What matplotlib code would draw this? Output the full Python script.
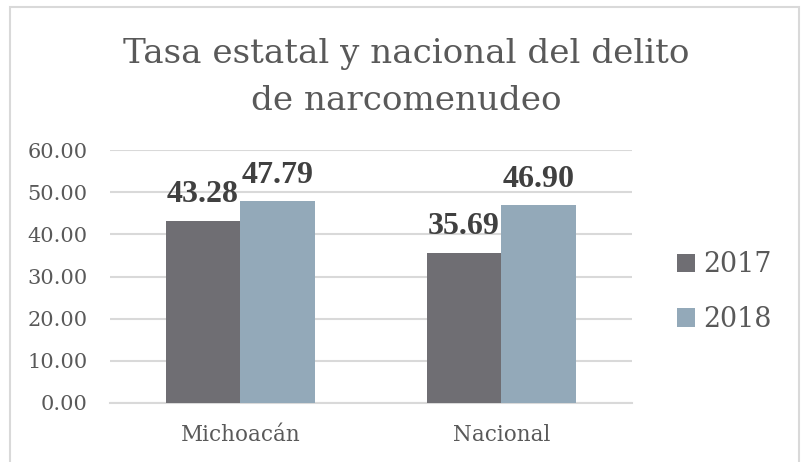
import matplotlib
matplotlib.use("Agg")
import matplotlib.pyplot as plt
from matplotlib.patches import Rectangle
import numpy as np

categories = ["Michoacán", "Nacional"]
years = ["2017", "2018"]
values_2017 = [43.28, 35.69]
values_2018 = [47.79, 46.90]
y_ticks = [0, 10, 20, 30, 40, 50, 60]

colors = ["#6f6e73", "#93a9b9"]
text_gray = "#595959"
grid_gray = "#d9d9d9"
serif = ["DejaVu Serif"]
label_font = ["Liberation Serif", "DejaVu Serif"]

W, H = 804, 462
fig = plt.figure(figsize=(W / 100, H / 100), dpi=100)
fig.patch.set_facecolor("white")

# chart frame
fig.add_artist(Rectangle((10 / W, -0.05), 789 / W, 1.05 - 7 / H,
                         transform=fig.transFigure, fill=False,
                         edgecolor=grid_gray, linewidth=1.5, clip_on=False))

ax = fig.add_axes([110 / W, 1 - 403 / H, 522 / W, 253 / H])
x = np.arange(len(categories))
width = 0.287

series = [values_2017, values_2018]
for i, (vals, yr) in enumerate(zip(series, years)):
    pos = x + (i - 0.5) * width
    bars = ax.bar(pos, vals, width, color=colors[i], label=yr, zorder=3)
    for b, v in zip(bars, vals):
        ax.annotate(f"{v:.2f}", (b.get_x() + b.get_width() / 2, v),
                    xytext=(0, 13), textcoords="offset points",
                    ha="center", va="baseline", fontsize=23, fontweight="bold",
                    color="#404040", family=label_font)

ax.set_xlim(-0.5, 1.5)
ax.set_ylim(0, 60)
ax.set_yticks(y_ticks)
ax.set_yticklabels([f"{t:.2f}" for t in y_ticks], family=serif, fontsize=15,
                   color=text_gray)
ax.set_xticks(x)
ax.set_xticklabels(categories, family=serif, fontsize=15.5, color=text_gray)
ax.tick_params(axis="both", length=0)
ax.tick_params(axis="y", pad=16)
ax.tick_params(axis="x", pad=15)
ax.grid(axis="y", color=grid_gray, linewidth=1.5, zorder=0)
for s in ["top", "right", "left"]:
    ax.spines[s].set_visible(False)
ax.spines["bottom"].set_color(grid_gray)
ax.spines["bottom"].set_linewidth(1.5)

fig.text(406 / W, 1 - 77 / H, "Tasa estatal y nacional del delito\nde narcomenudeo",
         ha="center", va="center", fontsize=24.6, color=text_gray, family=serif,
         linespacing=1.6)

leg = fig.legend(loc="center left", bbox_to_anchor=(677 / W, 1 - 292 / H),
                 frameon=False, prop={"family": serif, "size": 19.4},
                 labelcolor=text_gray, handlelength=0.67, handleheight=0.67,
                 handletextpad=0.3, labelspacing=1.03,
                 borderpad=0, borderaxespad=0)

fig.savefig("out.png", dpi=100, facecolor="white")
